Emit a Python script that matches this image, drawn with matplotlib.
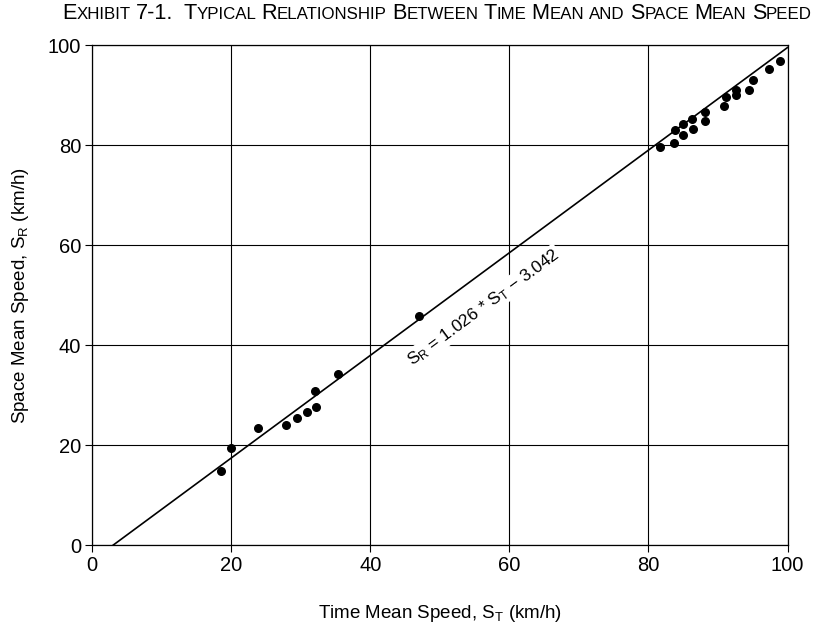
import matplotlib
matplotlib.use('Agg')
import matplotlib.pyplot as plt
import numpy as np

# observed spot speeds (km/h)
time_mean = [18.5, 20.0, 23.8, 27.8, 29.4, 30.9, 32.0, 32.2, 35.4, 47.0,
             81.6, 83.7, 83.8, 84.9, 84.9, 86.2, 86.4, 88.1, 88.1, 90.9,
             91.1, 92.6, 92.6, 94.5, 95.1, 97.4, 98.9]
space_mean = [14.9, 19.5, 23.4, 24.1, 25.5, 26.6, 30.9, 27.7, 34.3, 45.9,
              79.7, 80.5, 83.1, 82.0, 84.3, 85.3, 83.3, 86.7, 84.9, 87.9,
              89.7, 90.0, 91.0, 91.1, 93.0, 95.3, 96.9]

slope = 1.026
intercept = -3.042
ticks = [0, 20, 40, 60, 80, 100]

fam = ['Liberation Sans Narrow', 'Liberation Sans', 'DejaVu Sans']
plt.rcParams['font.family'] = fam
plt.rcParams['mathtext.fontset'] = 'custom'
plt.rcParams['mathtext.rm'] = 'Liberation Sans'
plt.rcParams['mathtext.it'] = 'Liberation Sans'
plt.rcParams['mathtext.default'] = 'regular'

fig = plt.figure(figsize=(8.33, 6.25), dpi=100)
ax = fig.add_axes([0.1108, 0.1275, 0.8346, 0.80])

ax.set_xlim(0, 100)
ax.set_ylim(0, 100)
ax.set_xticks(ticks)
ax.set_yticks(ticks)
ax.grid(True, color='black', linewidth=0.8)
ax.set_axisbelow(True)
for sp in ax.spines.values():
    sp.set_linewidth(0.9)
ax.tick_params(direction='out', length=5, width=0.8, labelsize=14.5, pad=3)

# regression line from where it crosses zero up to x = 100
x0 = -intercept / slope
xs = np.array([x0, 100])
ax.plot(xs, slope * xs + intercept, color='black', linewidth=1.2, zorder=3)

ax.scatter(time_mean, space_mean, s=30, color='black', zorder=4)

# equation written along the line
p1 = ax.transData.transform((0, intercept))
p2 = ax.transData.transform((100, 100 * slope + intercept))
ang = np.degrees(np.arctan2(p2[1] - p1[1], p2[0] - p1[0]))
ax.text(56.3, 47.6, r'$S_R$ = 1.026 * $S_T$ $-$ 3.042', rotation=ang,
        rotation_mode='anchor', ha='center', va='center', fontsize=12.5,
        bbox=dict(facecolor='white', edgecolor='none', pad=1), zorder=5)

ax.set_xlabel(r'Time Mean Speed, $S_T$ (km/h)', fontsize=13.5, labelpad=20)
ax.set_ylabel(r'Space Mean Speed, $S_R$ (km/h)', fontsize=13.5, labelpad=12)

# small-caps style title built piece by piece
big, small = 15.6, 12.2
parts = [('E', big), ('XHIBIT', small), (' ', small), ('7-1.', big), ('  ', small),
         ('T', big), ('YPICAL', small), (' ', small), ('R', big), ('ELATIONSHIP', small), (' ', small),
         ('B', big), ('ETWEEN', small), (' ', small), ('T', big), ('IME', small), (' ', small),
         ('M', big), ('EAN', small), (' ', small), ('AND', small), (' ', small),
         ('S', big), ('PACE', small), (' ', small), ('M', big), ('EAN', small), (' ', small),
         ('S', big), ('PEED', small)]
renderer = fig.canvas.get_renderer()
xpos = 62 / 833
ypos = 1 - 19 / 625
W = fig.get_figwidth() * fig.dpi
for txt, size in parts:
    if txt.strip() == '':
        xpos += len(txt) * size * 0.3 * fig.dpi / 72 / W
        continue
    t = fig.text(xpos, ypos, txt, fontsize=size, ha='left', va='baseline')
    bb = t.get_window_extent(renderer)
    xpos += bb.width / W

fig.savefig('out.png', dpi=100)
